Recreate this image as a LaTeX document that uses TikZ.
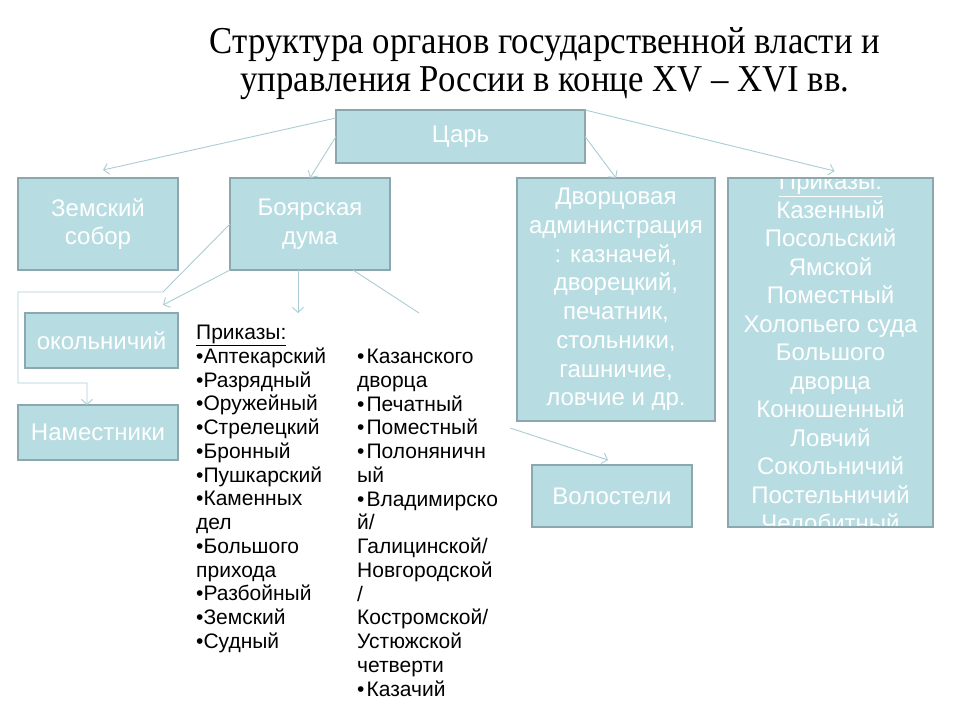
\documentclass[tikz,border=0pt]{standalone}
\usepackage{fontspec}
\setmainfont{Liberation Serif}
\setsansfont{Liberation Sans}
\usetikzlibrary{arrows.meta, positioning, calc}
\definecolor{boxfill}{RGB}{183, 221, 226}
\definecolor{boxedge}{RGB}{138, 168, 173}
\definecolor{linkblue}{RGB}{170, 204, 212}

\begin{document}
\begin{tikzpicture}[x=1pt, y=-1pt,
  orgbox/.style={draw=boxedge, fill=boxfill, line width=2.5pt, outer sep=0pt, inner sep=0pt, text=white, align=center, font=\sffamily\fontsize{24}{28.75}\selectfont},
  link/.style={linkblue, line width=0.9pt, -{Straight Barb[length=5pt, width=11pt]}},
  listtxt/.style={anchor=north west, inner sep=0pt, align=left, font=\sffamily\fontsize{21}{23.75}\selectfont}
]
  \useasboundingbox (0,0) rectangle (960,720);

  % Title
  \node[align=center, xscale=0.915, font=\fontsize{38}{38}\selectfont] (title) at (545,64)
    {Структура органов государственной власти и\\управления России в конце XV -- XVI вв.};

  % Boxes
  \node[orgbox, minimum width=249, minimum height=53] (tsar) at (460.5,136.5) {Царь};
  \node[orgbox, minimum width=160, minimum height=92] (zem) at (98,224) {Земский\\собор};
  \node[orgbox, minimum width=160, minimum height=92] (duma) at (310,224) {Боярская\\дума};
  \node[orgbox, minimum width=153, minimum height=55] (okol) at (101.5,340.5) {окольничий};
  \node[orgbox, minimum width=160, minimum height=55] (nam) at (98,432.5) {Наместники};
  \node[orgbox, minimum width=198, minimum height=243] (dvor) at (616,299.5)
    {Дворцовая\\администрация\\: казначей,\\дворецкий,\\печатник,\\стольники,\\гашничие,\\ловчие и др.};
  \node[orgbox, minimum width=160, minimum height=62] (vol) at (612,496) {Волостели};

  % Prikazy box (text runs over the edges)
  \node[orgbox, minimum width=205, minimum height=349] (prik) at (830.5,352.5) {};
  \node[align=center, text=white, inner sep=0pt, font=\sffamily\fontsize{24}{28.5}\selectfont] (priktxt) at (prik.center)
    {\underline{Приказы:}\\Казенный\\Посольский\\Ямской\\Поместный\\Холопьего суда\\Большого\\дворца\\Конюшенный\\Ловчий\\Сокольничий\\Постельничий\\Челобитный};
  \draw[boxedge, line width=2.5pt] (prik.north west) rectangle (prik.south east);

  % Prikazy of the duma
  \node[listtxt] (listL) at (196,325)
    {\underline{Приказы:}\\•Аптекарский\\•Разрядный\\•Оружейный\\•Стрелецкий\\•Бронный\\•Пушкарский\\•Каменных\\дел\\•Большого\\прихода\\•Разбойный\\•Земский\\•Судный};
  \node[listtxt] (listR) at (357,349)
    {•\hspace{2pt}Казанского\\дворца\\•\hspace{2pt}Печатный\\•\hspace{2pt}Поместный\\•\hspace{2pt}Полоняничн\\ый\\•\hspace{2pt}Владимирско\\й/\\Галицинской/\\Новгородской\\/\\Костромской/\\Устюжской\\четверти\\•\hspace{2pt}Казачий};

  \coordinate (listtop) at (298,313);
  \coordinate (listside) at (419,313);
  \coordinate (volfrom) at (510,428);

  % Links
  \draw[link] ([yshift=-8pt]tsar.north west) -- ([xshift=5pt, yshift=8pt]zem.north);
  \draw[link] (tsar.west) -- (duma.north);
  \draw[link] (tsar.east) -- (dvor.north);
  \draw[link] (tsar.north east) -- ([xshift=4pt, yshift=7pt]prik.north);
  \draw[link] (duma.west) -- ++(-67,68) -- (18,292) -- (18,383) -| ([xshift=-11pt]nam.north);
  \draw[link] (duma.south west) -- ([xshift=-15pt, yshift=8pt]okol.north east);
  \draw[link] ([xshift=-12pt]duma.south) -- (listtop);
  \draw[linkblue, line width=0.9pt] ([xshift=43pt]duma.south) -- (listside);
  \draw[link] (volfrom) -- ([xshift=-4pt, yshift=5pt]vol.north);
\end{tikzpicture}
\end{document}
